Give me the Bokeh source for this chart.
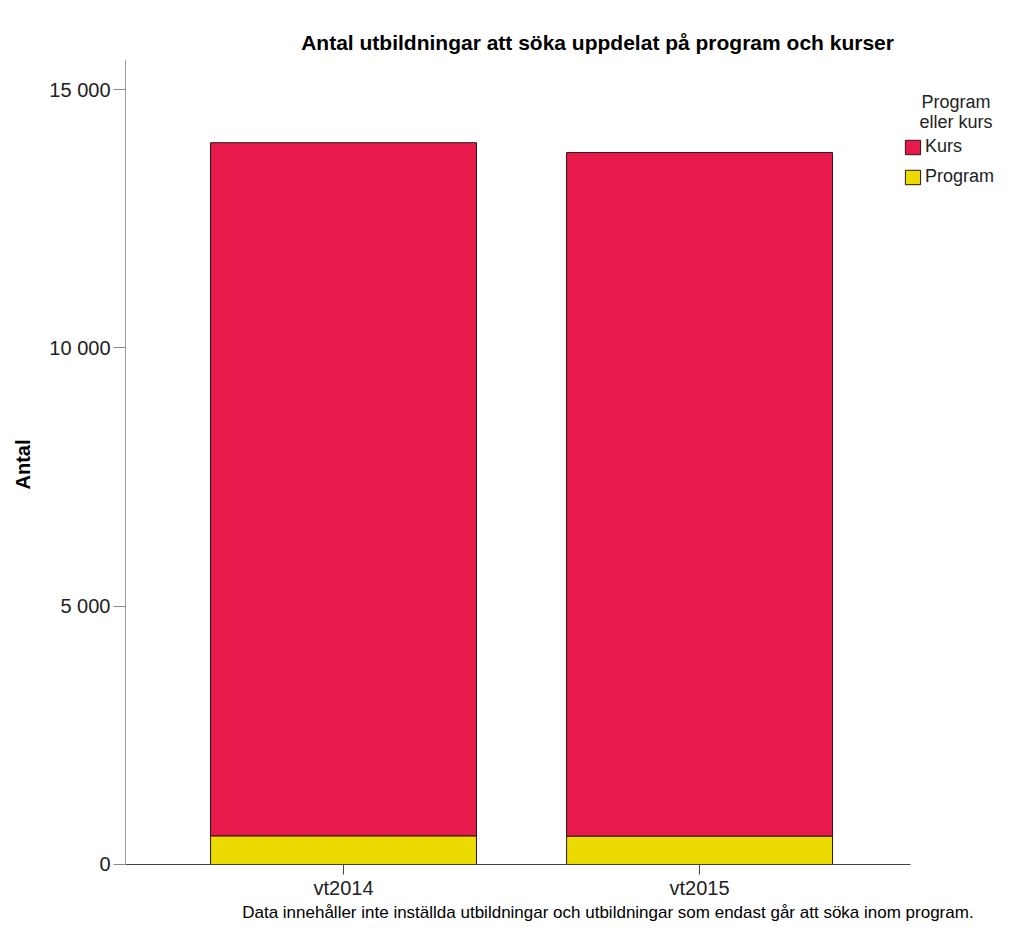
from bokeh.plotting import figure
from bokeh.models import Range1d, FixedTicker, Legend, LegendItem, Label
from bokeh.embed import file_html
from bokeh.resources import INLINE

terms = ["vt2014", "vt2015"]
program = [555, 550]
kurs = [13415, 13230]
series = ["Program", "Kurs"]
colors = ["#EBDB00", "#E8194B"]
y_ticks = [0, 5000, 10000, 15000]
y_labels = ["0", "5 000", "10 000", "15 000"]
title = "Antal utbildningar att söka uppdelat på program och kurser"
legend_title = ["Program", "eller kurs"]
footnote = "Data innehåller inte inställda utbildningar och utbildningar som endast går att söka inom program."

FONT = "Liberation Sans"
xpos = list(range(len(terms)))

p = figure(
    x_range=Range1d(-0.6124, 1.834),
    y_range=Range1d(-1239, 16723),
    width=996, height=928,
    output_backend="svg", toolbar_location=None,
    min_border_left=125, min_border_right=0, min_border_top=0, min_border_bottom=0,
)

data = dict(x=xpos, Program=program, Kurs=kurs)
rs = p.vbar_stack(series, x="x", width=0.747, color=colors, line_color="#2e1414",
                  line_width=1, source=data)

p.xgrid.visible = False
p.ygrid.visible = False
p.outline_line_color = None

ya = p.yaxis[0]
ya.ticker = FixedTicker(ticks=y_ticks)
ya.major_label_overrides = {t: l for t, l in zip(y_ticks, y_labels)}
ya.bounds = (0, 15560)
ya.minor_tick_line_color = None
ya.major_tick_in = 0
ya.major_tick_out = 12
ya.axis_line_color = "#9a9a9a"
ya.major_tick_line_color = "#8a8a8a"
ya.major_label_text_font = FONT
ya.major_label_text_font_size = "20px"
ya.major_label_text_color = "#222222"
ya.major_label_standoff = 3
ya.axis_label = "Antal"
ya.axis_label_text_font = FONT
ya.axis_label_text_font_size = "20px"
ya.axis_label_text_font_style = "bold"
ya.axis_label_text_color = "#000000"
ya.axis_label_standoff = 12

xa = p.xaxis[0]
xa.fixed_location = 0
xa.bounds = (-0.6124, 1.5927)
xa.ticker = FixedTicker(ticks=xpos)
xa.major_label_overrides = {i: t for i, t in zip(xpos, terms)}
xa.minor_tick_line_color = None
xa.major_tick_in = 0
xa.major_tick_out = 10
xa.axis_line_color = "#444444"
xa.major_tick_line_color = "#444444"
xa.major_label_text_font = FONT
xa.major_label_text_font_size = "20px"
xa.major_label_text_color = "#222222"
xa.major_label_standoff = 3

legend = Legend(
    items=[LegendItem(label="Kurs", renderers=[rs[1]]), LegendItem(label="Program", renderers=[rs[0]])],
    location=(778, 741), margin=0, padding=0, spacing=9,
    glyph_width=19, glyph_height=18, label_standoff=3,
    label_text_font=FONT, label_text_font_size="18px", label_text_color="#222222",
    label_height=18, border_line_color=None, background_fill_alpha=0,
)
p.add_layout(legend, "center")

p.add_layout(Label(x=1.72, y=14750, text=legend_title[0], text_align="center", text_baseline="middle",
                   text_font=FONT, text_font_size="18px", text_color="#222222"))
p.add_layout(Label(x=1.72, y=14380, text=legend_title[1], text_align="center", text_baseline="middle",
                   text_font=FONT, text_font_size="18px", text_color="#222222"))

p.add_layout(Label(x=0.7135, y=15910, text=title, text_align="center", text_baseline="middle",
                   text_font=FONT, text_font_size="21px", text_font_style="bold", text_color="#000000"))
p.add_layout(Label(x=1.7697, y=-929, text=footnote, text_align="right", text_baseline="middle",
                   text_font=FONT, text_font_size="17px", text_color="#000000"))

open("out.html", "w").write(file_html(p, INLINE))
